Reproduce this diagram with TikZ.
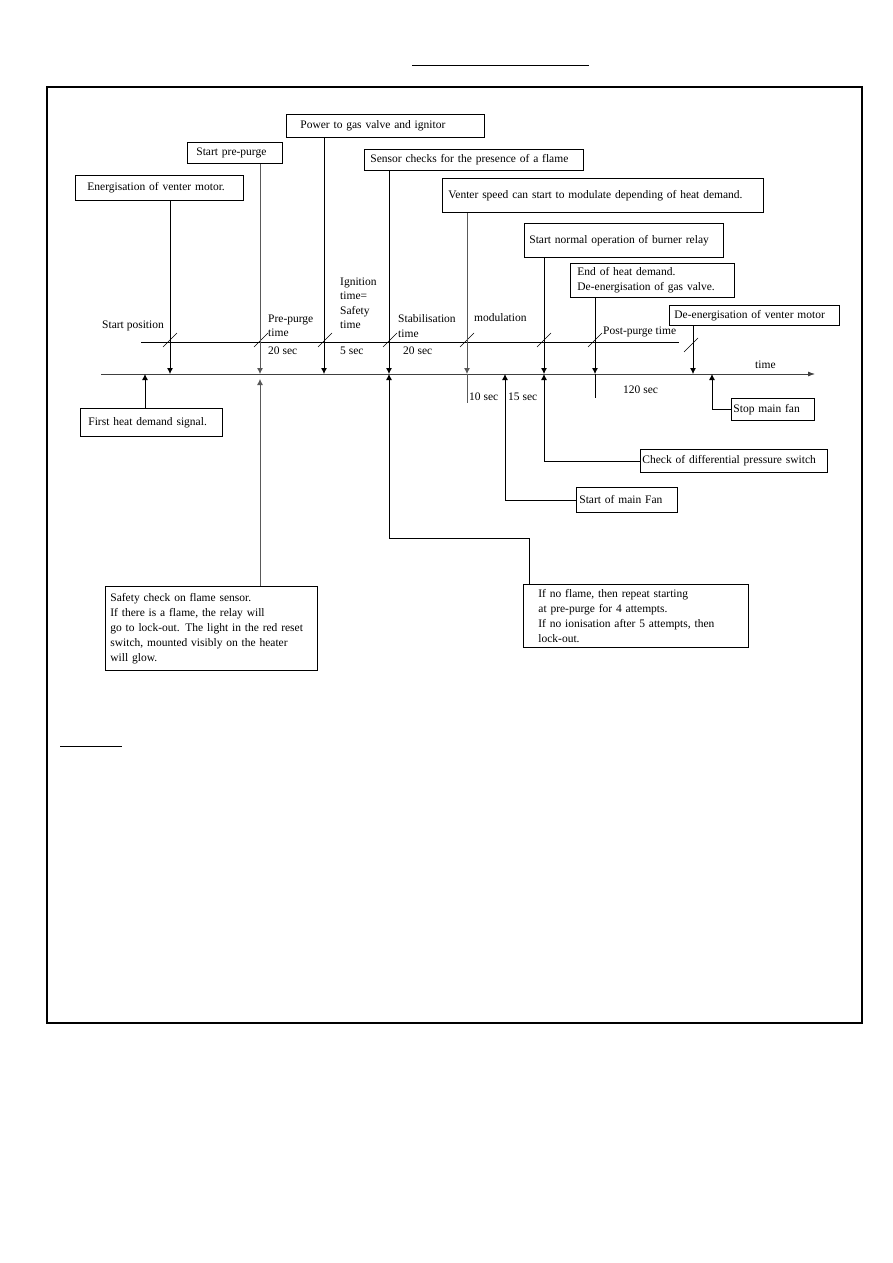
\documentclass[tikz,border=0pt]{standalone}
\usepackage{fontspec}
\setmainfont{Liberation Serif}
\usetikzlibrary{arrows.meta}
\begin{document}
\begin{tikzpicture}[
	x=1pt, y=-1pt,
	every node/.style={ font=\fontsize{11.5}{15}\selectfont },
	evbox/.style={ draw, line width=0.8pt, anchor=north west, align=left, inner ysep=0pt },
	tlabel/.style={ anchor=west, align=left, inner sep=0pt, font=\fontsize{11.5}{14.5}\selectfont },
	evline/.style={ line width=0.8pt },
	evlineg/.style={ black!65, line width=0.8pt },
	evarrow/.style={ -{Latex[length=6pt,width=6pt]} },
	tick/.style={ line width=0.6pt }
]
\useasboundingbox (0,0) rectangle (893,1263);

\draw[line width=1.2pt] (47,87) rectangle (862,1023);
\draw[line width=0.9pt] (412,65) -- (589,65);
\draw[line width=0.9pt] (60,746) -- (122,746);

% events above the time axis
\node at (75,175) (energ) [evbox, text width=144, inner xsep=12, minimum height=25] {Energisation of venter motor.};
\node at (187,142) (prepurge) [evbox, text width=77, inner xsep=9, minimum height=21] {Start pre-purge};
\node at (286,114) (power) [evbox, text width=170, inner xsep=14, minimum height=23] {Power to gas valve and ignitor};
\node at (364,149) (sensor) [evbox, text width=207, inner xsep=6, minimum height=21] {Sensor checks for the presence of a flame};
\node at (442,178) (venter) [evbox, text width=309, inner xsep=6, minimum height=34] {Venter speed can start to modulate depending of heat demand.};
\node at (524,223) (normal) [evbox, text width=189, inner xsep=5, minimum height=34] {Start normal operation of burner relay};
\node at (570,263) (endheat) [evbox, text width=150, inner xsep=7, minimum height=34] {End of heat demand.\\De-energisation of gas valve.};
\node at (669,305) (deenerg) [evbox, text width=160, inner xsep=5, minimum height=20] {De-energisation of venter motor};

% events below the time axis
\node at (80,408) (firstheat) [evbox, text width=126, inner xsep=8, minimum height=28] {First heat demand signal.};
\node at (731,398) (stopfan) [evbox, text width=79, inner xsep=2, minimum height=22] {Stop main fan};
\node at (640,449) (check) [evbox, text width=183, inner xsep=2, minimum height=23] {Check of differential pressure switch};
\node at (576,487) (mainfan) [evbox, text width=95, inner xsep=3, minimum height=25] {Start of main Fan};
\node at (105,586) (safety) [evbox, text width=202, inner xsep=5, minimum height=84] {Safety check on flame sensor.\\If there is a flame, the relay will\\go to lock-out. The light in the red reset\\switch, mounted visibly on the heater\\will glow.};
\node at (523,584) (noflame) [evbox, text width=195, inner xsep=15, minimum height=63] {If no flame, then repeat starting\\at pre-purge for 4 attempts.\\If no ionisation after 5 attempts, then\\lock-out.};

% time axis and phase line
\coordinate (tstart) at (101,374);
\coordinate (tend) at (815,374);
\coordinate (pstart) at (141,342);
\coordinate (pend) at (679,342);
\draw[-{Latex[length=7pt,width=5pt]}, black!75, line width=0.8pt] (tstart) -- (tend);
\draw[evline] (pstart) -- (pend);

\coordinate (a1) at (145,374);
\coordinate (a2) at (170,374);
\coordinate (a3) at (260,374);
\coordinate (a3b) at (260,379);
\coordinate (a4) at (324,374);
\coordinate (a5) at (389,374);
\coordinate (a6) at (467,374);
\coordinate (a6e) at (467,403);
\coordinate (a7) at (505,374);
\coordinate (a8) at (544,374);
\coordinate (a9) at (595,374);
\coordinate (a9e) at (595,398);
\coordinate (a10) at (693,374);
\coordinate (a11) at (712,374);
\coordinate (fbend) at (529,538);

\draw[tick] (170,340) ++(-7,7) -- ++(14,-14);
\draw[tick] (261,340) ++(-7,7) -- ++(14,-14);
\draw[tick] (325,340) ++(-7,7) -- ++(14,-14);
\draw[tick] (390,340) ++(-7,7) -- ++(14,-14);
\draw[tick] (467,340) ++(-7,7) -- ++(14,-14);
\draw[tick] (544,340) ++(-7,7) -- ++(14,-14);
\draw[tick] (595,340) ++(-7,7) -- ++(14,-14);
\draw[tick] (691,345) ++(-7,7) -- ++(14,-14);

\node at (102,326) (lstart) [tlabel] {Start position};
\node at (268,326) (lprepurge) [tlabel] {Pre-purge\\time};
\node at (268,351) (lpp20) [tlabel] {20 sec};
\node at (340,303) (lignition) [tlabel] {Ignition\\time=\\Safety\\time};
\node at (340,351) (lign5) [tlabel] {5 sec};
\node at (398,326) (lstab) [tlabel] {Stabilisation\\time};
\node at (403,351) (lstab20) [tlabel] {20 sec};
\node at (474,318) (lmod) [tlabel] {modulation};
\node at (603,332) (lpost) [tlabel] {Post-purge time};
\node at (469,397) (l10) [tlabel] {10 sec};
\node at (508,397) (l15) [tlabel] {15 sec};
\node at (623,390) (l120) [tlabel] {120 sec};
\node at (755,365) (ltime) [tlabel] {time};

% connectors to the axis
\draw[evarrow, evline] (energ.south -| a2) -- (a2);
\draw[evarrow, evlineg] (prepurge.south -| a3) -- (a3);
\draw[evarrow, evline] (power.south -| a4) -- (a4);
\draw[evarrow, evline] (sensor.south -| a5) -- (a5);
\draw[evarrow, evlineg] (venter.south -| a6) -- (a6);
\draw[evlineg] (a6) -- (a6e);
\draw[evarrow, evline] (normal.south -| a8) -- (a8);
\draw[evarrow, evline] (endheat.south -| a9) -- (a9);
\draw[evline] (a9) -- (a9e);
\draw[evarrow, evline] (deenerg.south -| a10) -- (a10);
\draw[evarrow, evline] (firstheat.north -| a1) -- (a1);
\draw[evarrow, evlineg] (safety.north -| a3) -- (a3b);
\draw[evarrow, evline] (noflame.north -| fbend) -- (fbend) -| (a5);
\draw[evarrow, evline] (mainfan.west) -| (a7);
\draw[evarrow, evline] (check.west) -| (a8);
\draw[evarrow, evline] (stopfan.west) -| (a11);

\end{tikzpicture}
\end{document}
